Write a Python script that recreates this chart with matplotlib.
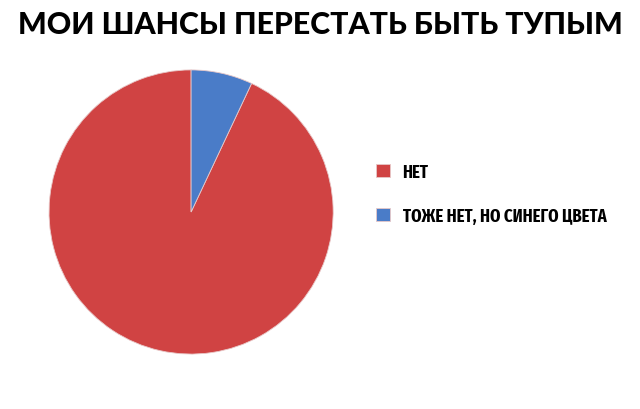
import matplotlib
matplotlib.use("Agg")
import matplotlib.pyplot as plt

# данные
labels = ["НЕТ", "ТОЖЕ НЕТ, НО СИНЕГО ЦВЕТА"]
values = [93, 7]
colors = ["#D04343", "#4A7CC8"]
title = "МОИ ШАНСЫ ПЕРЕСТАТЬ БЫТЬ ТУПЫМ"

fig = plt.figure(figsize=(6.4, 4.1), dpi=100)
fig.patch.set_facecolor("white")

# круговая диаграмма
ax = fig.add_axes([0.0766, 0.134, 0.444, 0.693])
wedges, _ = ax.pie(values, colors=colors, startangle=90, counterclock=True, radius=1,
                   wedgeprops=dict(edgecolor="#E8C8C8", linewidth=0.6))
ax.set_xlim(-1, 1)
ax.set_ylim(-1, 1)
ax.set_aspect("equal")

fig.text(0.5, 0.938, title, ha="center", va="center",
         fontsize=21.8, fontweight="black", family=["Lato", "DejaVu Sans"])

leg = fig.legend(wedges, labels, loc="upper left", bbox_to_anchor=(0.5875, 0.6),
                 frameon=False, borderpad=0, borderaxespad=0,
                 handlelength=0.75, handleheight=0.75,
                 handletextpad=0.72, labelspacing=1.45,
                 prop=dict(family=["Fira Sans Extra Condensed", "DejaVu Sans"],
                           weight="bold", size=13))

fig.savefig("out.png", dpi=100)
